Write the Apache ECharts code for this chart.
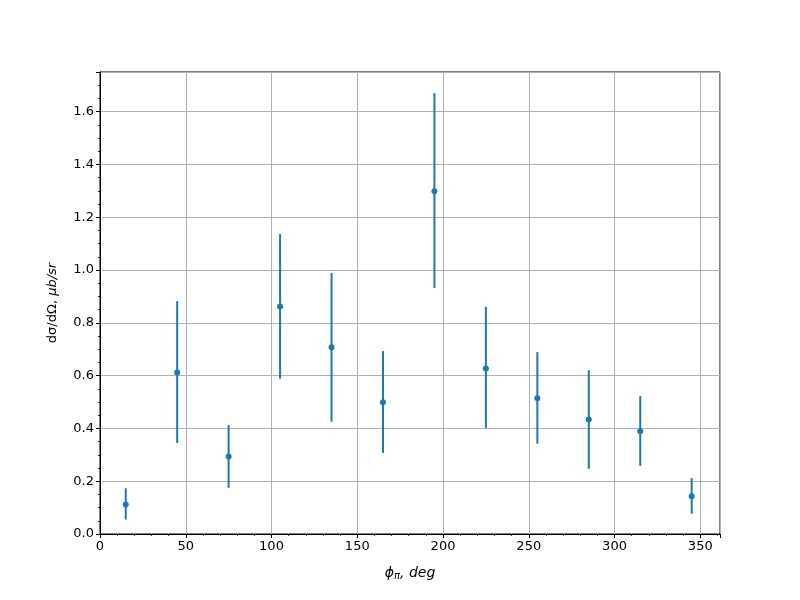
<!DOCTYPE html>
<html>
<head>
<meta charset="utf-8">
<script src="https://cdn.jsdelivr.net/npm/echarts@6/dist/echarts.min.js"></script>
<style>html,body{margin:0;padding:0;background:#fff}#c{width:800px;height:600px}</style>
</head>
<body>
<div id="c"></div>
<script>
const phi = [15, 45, 75, 105, 135, 165, 195, 225, 255, 285, 315, 345];
const xsec = [0.112, 0.612, 0.294, 0.862, 0.707, 0.499, 1.298, 0.627, 0.514, 0.434, 0.389, 0.143];
const errLow = [0.057, 0.267, 0.119, 0.274, 0.282, 0.192, 0.366, 0.225, 0.172, 0.187, 0.131, 0.066];
const errHigh = [0.061, 0.270, 0.119, 0.274, 0.282, 0.194, 0.372, 0.233, 0.175, 0.187, 0.134, 0.069];

const color = '#1f77b4';
const font = 'DejaVu Sans';

const errData = phi.map((x, i) => [x, xsec[i] - errLow[i], xsec[i] + errHigh[i]]);
const ptData = phi.map((x, i) => [x, xsec[i]]);

const chart = echarts.init(document.getElementById('c'), null, {renderer: 'canvas'});
chart.setOption({
  animation: false,
  backgroundColor: '#fff',
  grid: {left: 100, right: 80, top: 72, bottom: 66, show: true, borderColor: '#000', borderWidth: 1, backgroundColor: 'transparent'},
  xAxis: {
    type: 'value', min: 0, max: 361.5, interval: 50,
    name: '{i|ϕ}{s|π}{i|, deg}', nameLocation: 'middle', nameGap: 31,
    nameTextStyle: {rich: {
      i: {fontFamily: font, fontStyle: 'italic', fontSize: 14, color: '#000'},
      s: {fontFamily: font, fontStyle: 'italic', fontSize: 10, color: '#000', verticalAlign: 'bottom', padding: [6, 0, 0, 0]}
    }},
    axisLine: {show: true, lineStyle: {color: '#000', width: 1}},
    axisTick: {show: true, inside: false, length: 4, lineStyle: {color: '#000', width: 1}},
    minorTick: {show: true, splitNumber: 5, length: 2, lineStyle: {color: '#000', width: 0.8}},
    axisLabel: {color: '#000', fontFamily: font, fontSize: 13, margin: 6,
      formatter: v => (Math.abs(v % 50) < 1e-6 ? String(v) : '')},
    splitLine: {show: true, lineStyle: {color: '#b0b0b0', width: 1}},
    minorSplitLine: {show: false}
  },
  yAxis: {
    type: 'value', min: 0, max: 1.75, interval: 0.2,
    name: '{n|dσ/dΩ, }{i|μb/sr}', nameLocation: 'middle', nameGap: 41,
    nameTextStyle: {rich: {
      n: {fontFamily: font, fontSize: 13, color: '#000'},
      i: {fontFamily: font, fontStyle: 'italic', fontSize: 13, color: '#000'}
    }},
    axisLine: {show: true, lineStyle: {color: '#000', width: 1}},
    axisTick: {show: true, inside: false, length: 4, lineStyle: {color: '#000', width: 1}},
    minorTick: {show: true, splitNumber: 4, length: 2, lineStyle: {color: '#000', width: 0.8}},
    axisLabel: {color: '#000', fontFamily: font, fontSize: 13, margin: 6,
      formatter: v => {
        const r = Math.round(v / 0.2);
        return Math.abs(v - r * 0.2) < 1e-6 ? v.toFixed(1) : '';
      }},
    splitLine: {show: true, lineStyle: {color: '#b0b0b0', width: 1}},
    minorSplitLine: {show: false}
  },
  series: [
    {
      type: 'custom',
      data: errData,
      encode: {x: 0, y: [1, 2]},
      renderItem: function (params, api) {
        const x = api.value(0);
        const lo = api.coord([x, api.value(1)]);
        const hi = api.coord([x, api.value(2)]);
        return {
          type: 'line',
          shape: {x1: lo[0], y1: lo[1], x2: hi[0], y2: hi[1]},
          style: {stroke: color, lineWidth: 2}
        };
      },
      z: 2
    },
    {
      type: 'scatter',
      data: ptData,
      symbol: 'circle',
      symbolSize: 6,
      itemStyle: {color: color, opacity: 1},
      z: 3
    }
  ]
});
</script>
</body>
</html>
